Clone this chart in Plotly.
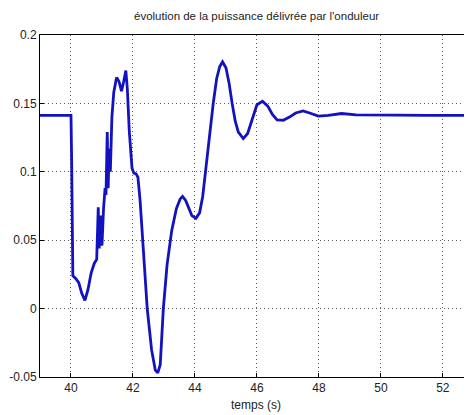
import plotly.graph_objects as go

# time (s) and power values
temps = [39.0, 40.0, 40.02, 40.04, 40.06, 40.15, 40.25, 40.35, 40.45, 40.55,
         40.65, 40.75, 40.83, 40.88, 40.91, 40.95, 41.0, 41.05, 41.1, 41.13,
         41.17, 41.2, 41.23, 41.27, 41.32, 41.38, 41.47, 41.55, 41.63, 41.7,
         41.77, 41.82, 41.88, 41.97, 42.03, 42.1, 42.16, 42.23, 42.35, 42.46,
         42.6, 42.72, 42.8, 42.88, 42.98, 43.1, 43.25, 43.4, 43.52, 43.6,
         43.7, 43.8, 43.9, 44.03, 44.15, 44.25, 44.35, 44.45, 44.59, 44.7,
         44.8, 44.89, 45.0, 45.1, 45.2, 45.3, 45.4, 45.56, 45.7, 45.8,
         45.9, 46.0, 46.18, 46.35, 46.5, 46.65, 46.85, 47.05, 47.25, 47.49,
         47.7, 47.98, 48.3, 48.73, 49.2, 49.8, 50.5, 51.5, 53.0]
puissance = [0.1413, 0.1413, 0.110, 0.060, 0.024, 0.022, 0.019, 0.011, 0.006, 0.014,
             0.026, 0.033, 0.036, 0.074, 0.044, 0.068, 0.046, 0.073, 0.088, 0.083,
             0.129, 0.088, 0.117, 0.100, 0.140, 0.158, 0.169, 0.166, 0.159, 0.166,
             0.174, 0.160, 0.130, 0.1025, 0.099, 0.0985, 0.096, 0.079, 0.040, 0.0,
             -0.030, -0.045, -0.047, -0.041, 0.0, 0.032, 0.057, 0.073, 0.080, 0.082,
             0.079, 0.073, 0.068, 0.066, 0.070, 0.082, 0.100, 0.122, 0.150, 0.168,
             0.177, 0.1804, 0.176, 0.165, 0.150, 0.137, 0.129, 0.1243, 0.128, 0.135,
             0.143, 0.149, 0.1516, 0.148, 0.142, 0.138, 0.1377, 0.140, 0.143, 0.1445,
             0.143, 0.1407, 0.1412, 0.1426, 0.1416, 0.1413, 0.1414, 0.1413, 0.1413]

x_ticks = [40, 42, 44, 46, 48, 50, 52]
y_ticks = [-0.05, 0, 0.05, 0.1, 0.15, 0.2]
y_tick_labels = ["-0.05", "0", "0.05", "0.1", "0.15", "0.2"]

fig = go.Figure()
fig.add_trace(go.Scatter(x=temps, y=puissance, mode="lines",
                         line=dict(color="#1212c0", width=2.8)))

# the page body has an 8px margin, so the figure is 8px smaller than the window
W, H = 464, 407
grid_col = "rgba(60,60,60,0.85)"
fig.update_layout(
    width=W, height=H,
    margin=dict(l=32, r=0, t=27, b=38, autoexpand=False),
    paper_bgcolor="white", plot_bgcolor="white",
    showlegend=False,
    font=dict(family="Liberation Sans, Arial, sans-serif", size=12, color="black"),
    annotations=[
        dict(text="évolution de la puissance délivrée par l'onduleur",
             xref="paper", yref="paper", x=0.5, y=1 + 19 / 342,
             xanchor="center", yanchor="middle", showarrow=False,
             font=dict(size=11.5, color="#222")),
        dict(text="temps (s)", xref="paper", yref="paper",
             x=0.5, y=-28 / 342, xanchor="center", yanchor="middle",
             showarrow=False, font=dict(size=12, color="#222")),
    ],
)
fig.update_xaxes(
    range=[39, 52.94], tickvals=x_ticks, ticktext=[str(v) for v in x_ticks],
    showline=True, linecolor="black", linewidth=1, mirror=True,
    ticks="inside", ticklen=4, tickcolor="black",
    showgrid=True, gridcolor=grid_col, griddash="1px,3px", gridwidth=1,
    zeroline=False, automargin=False,
    tickfont=dict(size=12, color="#222"),
)
fig.update_yaxes(
    range=[-0.05, 0.2], tickvals=y_ticks, ticktext=y_tick_labels,
    showline=True, linecolor="black", linewidth=1, mirror=False,
    ticks="inside", ticklen=4, tickcolor="black",
    showgrid=True, gridcolor=grid_col, griddash="1px,3px", gridwidth=1,
    zeroline=False, automargin=False,
    tickfont=dict(size=12, color="#222"),
)

fig.write_html("out.html")
